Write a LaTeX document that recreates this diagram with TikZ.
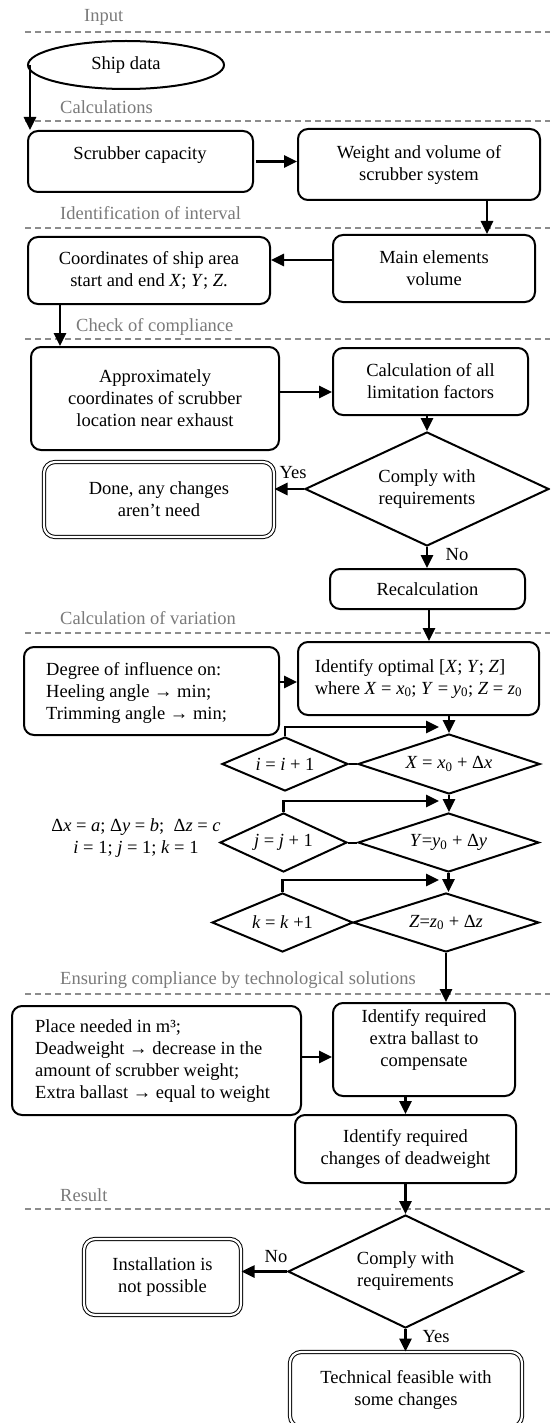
\documentclass[tikz,border=0pt]{standalone}
\usepackage{fontspec}
\setmainfont{Liberation Serif}
\usetikzlibrary{shapes.geometric,arrows.meta}
\newcommand\bfs{\fontsize{18.5}{22}\selectfont}
\definecolor{lblgray}{HTML}{7A7A7A}
\definecolor{dashgray}{HTML}{8C8C8C}
\begin{document}
\begin{tikzpicture}[x=1pt,y=-1pt,
  box/.style={draw, line width=2pt, rounded corners=10pt, inner sep=0pt, align=center, font=\bfs},
  dbl/.style={draw, double, double distance=2.2pt, line width=1pt, rounded corners=11pt, inner sep=0pt, align=center, font=\bfs},
  dia/.style={draw, diamond, line width=2pt, inner sep=0pt, align=center, font=\bfs},
  txt/.style={inner sep=0pt, font=\bfs},
  lab/.style={anchor=west, inner sep=0pt, text=lblgray, font=\bfs},
  dl/.style={draw=dashgray, dash pattern=on 6pt off 4pt, line width=1.1pt},
  arr/.style={line width=2.6pt, -{Triangle[length=13pt,width=12pt]}},
  con/.style={line width=2pt}]
\useasboundingbox (0,0) rectangle (550,1423);
\clip (0,0) rectangle (550,1423);
\fill[white] (0,0) rectangle (550,1423);

% section labels and dashed separators
\node[lab] (lInput) at (84,17) {Input};
\draw[dl] (25,32) -- (550,32);
\node[lab] (lCalc) at (60,107) {Calculations};
\draw[dl] (25,121) -- (550,121);
\node[lab] (lIdent) at (60,213) {Identification of interval};
\draw[dl] (25,228) -- (550,228);
\node[lab] (lCheck) at (76,327) {Check of compliance};
\draw[dl] (25,339) -- (550,339);
\node[lab] (lVar) at (60,618) {Calculation of variation};
\draw[dl] (25,633) -- (550,633);
\node[lab] (lEns) at (60,980) {Ensuring compliance by technological solutions};
\draw[dl] (25,994) -- (550,994);
\node[lab] (lRes) at (60,1195) {Result};
\draw[dl] (25,1209) -- (550,1209);

% nodes
\node[draw, ellipse, line width=2pt, inner sep=0pt, minimum width=196, minimum height=48, font=\bfs] (ship) at (126,65) {Ship data};
\node[box, minimum width=225, minimum height=61] (scrub) at (140.5,161.5) {};
\node[txt] (scrubT) at (140,155) {Scrubber capacity};
\node[box, minimum width=242, minimum height=71] (weight) at (419,164.5) {Weight and volume of\\scrubber system};
\node[box, minimum width=202, minimum height=67] (main) at (434,268.5) {Main elements\\volume};
\node[box, minimum width=242, minimum height=67] (coords) at (149,270.5) {Coordinates of ship area\\start and end \textit{X}; \textit{Y}; \textit{Z}.};
\node[box, minimum width=248, minimum height=103] (approx) at (155,398.5) {Approximately\\coordinates of scrubber\\location near exhaust};
\node[box, minimum width=195, minimum height=67] (calc) at (430.5,381.5) {Calculation of all\\limitation factors};
\node[dia, minimum width=244, minimum height=114, aspect=2.14] (d1) at (427,489) {Comply with\\requirements};
\node[dbl, minimum width=230, minimum height=75] (done) at (159,499.5) {Done, any changes\\aren’t need};
\node[txt] (yes1) at (293,473) {Yes};
\node[txt] (no1) at (457,555) {No};
\node[box, minimum width=195, minimum height=40] (recalc) at (427.5,589) {Recalculation};
\node[box, minimum width=255, minimum height=88] (degree) at (151.5,691) {};
\node[txt, anchor=west, align=left] (degreeT) at (46,693) {Degree of influence on:\\Heeling angle → min;\\Trimming angle → min;};
\node[box, minimum width=241, minimum height=73, align=left] (idopt) at (418.5,678.5) {Identify optimal [\textit{X}; \textit{Y}; \textit{Z}]\\where \textit{X} = \textit{x}\textsubscript{0}; \textit{Y} = \textit{y}\textsubscript{0}; \textit{Z} = \textit{z}\textsubscript{0}};

\node[dia, minimum width=126, minimum height=54, aspect=2.33] (inc1) at (285,764) {\textit{i} = \textit{i} + 1};
\node[dia, minimum width=182, minimum height=60, aspect=3.03] (dX) at (449,764) {\textit{X} = \textit{x}\textsubscript{0} + Δ\textit{x}};
\node[dia, minimum width=127, minimum height=59, aspect=2.15] (inc2) at (283.5,842.5) {\textit{j} = \textit{j} + 1};
\node[dia, minimum width=181, minimum height=59, aspect=3.07] (dY) at (448.5,842.5) {\textit{Y}=\textit{y}\textsubscript{0} + Δ\textit{y}};
\node[dia, minimum width=141, minimum height=59, aspect=2.39] (inc3) at (282.5,922.5) {\textit{k} = \textit{k} +1};
\node[dia, minimum width=186, minimum height=59, aspect=3.15] (dZ) at (446,922.5) {\textit{Z}=\textit{z}\textsubscript{0} + Δ\textit{z}};
\node[txt, align=center] (delta) at (136,838.5) {Δ\textit{x} = \textit{a}; Δ\textit{y} = \textit{b};\ \ Δ\textit{z} = \textit{c}\\\textit{i} = 1; \textit{j} = 1; \textit{k} = 1};
\coordinate (l1) at (439,727);
\coordinate (l2) at (439,801);
\coordinate (l3) at (439,880);

\node[box, minimum width=289, minimum height=109] (place) at (156.5,1060.5) {};
\node[txt, anchor=west, align=left] (placeT) at (35,1061) {Place needed in m³;\\Deadweight → decrease in the\\amount of scrubber weight;\\Extra ballast → equal to weight};
\node[box, minimum width=182, minimum height=93] (idreq) at (424,1049.5) {};
\node[txt, align=center] (idreqT) at (424,1040) {Identify required\\extra ballast to\\compensate};
\node[box, minimum width=221, minimum height=68] (iddw) at (405.5,1149) {Identify required\\changes of deadweight};
\node[dia, minimum width=235, minimum height=113, aspect=2.08] (d2) at (405.5,1271.5) {Comply with\\requirements};
\node[dbl, minimum width=157, minimum height=76] (inst) at (162.5,1277) {Installation is\\not possible};
\node[txt] (no2) at (276,1257) {No};
\node[txt] (yes2) at (436,1337) {Yes};
\node[dbl, minimum width=232, minimum height=75] (tech) at (406,1389.5) {Technical feasible with\\some changes};

% connectors
\draw[arr] ([xshift=3pt]ship.west) -- ([xshift=3pt]ship.west |- scrub.north);
\draw[arr] ([xshift=2pt]scrub.east) -- (scrub.east -| weight.west);
\draw[arr] ([xshift=68pt]weight.south) -- ([xshift=68pt]weight.south |- main.north);
\draw[arr] ([yshift=8.5pt]main.west) -- ([yshift=8.5pt]main.west -| coords.east);
\draw[arr] ([xshift=-89pt]coords.south) -- ([xshift=-89pt]coords.south |- approx.north);
\draw[arr] ([yshift=6.5pt]approx.east) -- ([yshift=6.5pt]approx.east -| calc.west);
\draw[arr] (d1.north |- calc.south) -- (d1.north);
\draw[arr] (d1.west) -- (d1.west -| done.east);
\draw[arr] (d1.south) -- (d1.south |- recalc.north);
\draw[arr] ([xshift=1.5pt]recalc.south) -- ([xshift=1.5pt]recalc.south |- idopt.north);
\draw[arr] ([yshift=9pt]degree.east) -- ([yshift=9pt]degree.east -| idopt.west);
\draw[arr] (dX.north |- idopt.south) -- (dX.north);
\draw[arr] (inc1.north) |- (l1);
\draw[con] (inc1.east) -- (dX.west);
\draw[arr] (dX.south) -- (dX.south |- dY.north);
\draw[arr] (inc2.north) |- (l2);
\draw[con] (inc2.east) -- (dY.west);
\draw[arr] (dY.south) -- (dY.south |- dZ.north);
\draw[arr] (inc3.north) |- (l3);
\draw[arr] (dZ.south) -- (dZ.south |- idreq.north);
\draw[arr] ([yshift=3.5pt]place.east) -- ([yshift=3.5pt]place.east -| idreq.west);
\draw[arr] (iddw.north |- idreq.south) -- (iddw.north);
\draw[arr] (iddw.south) -- (iddw.south |- d2.north);
\draw[arr] (d2.west) -- (d2.west -| inst.east);
\draw[arr] (d2.south) -- (d2.south |- tech.north);
\end{tikzpicture}
\end{document}
